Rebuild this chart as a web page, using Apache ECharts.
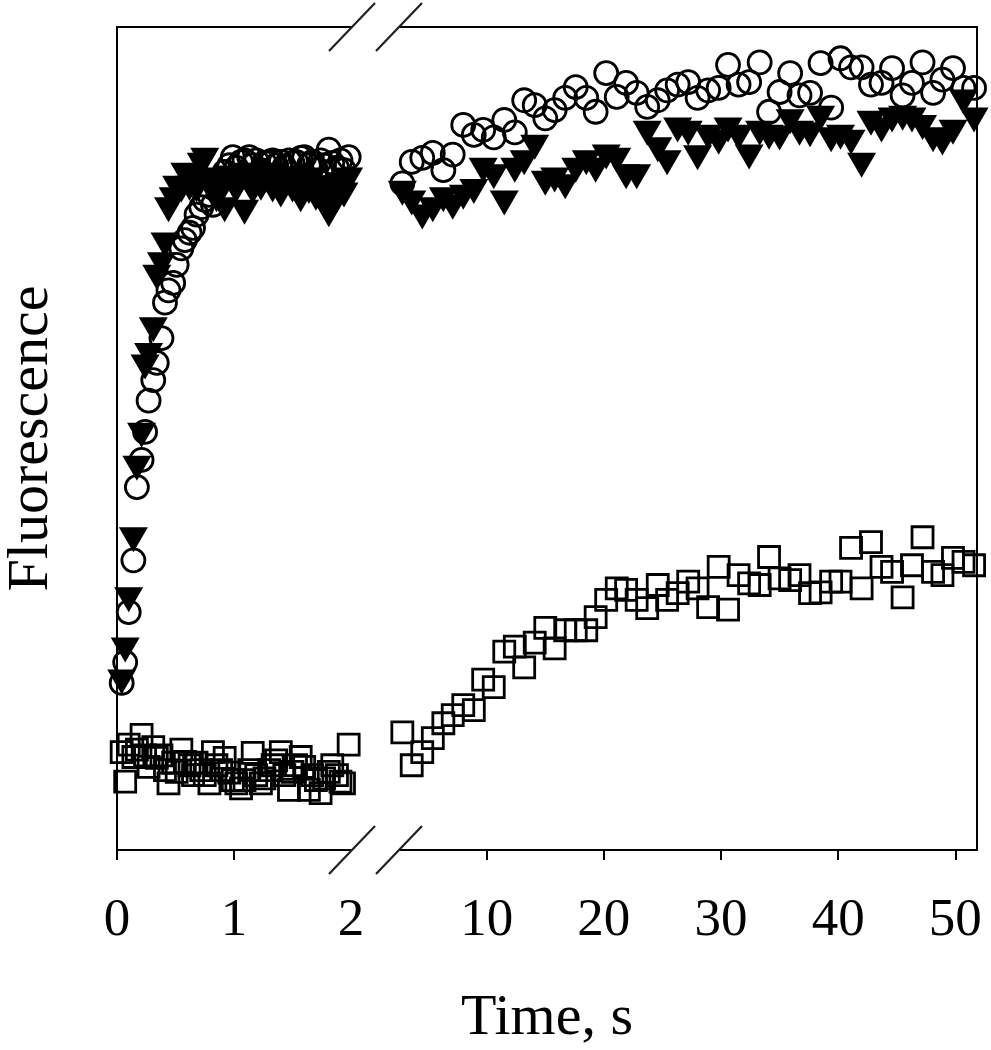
<!DOCTYPE html>
<html><head><meta charset="utf-8">
<script src="https://cdn.jsdelivr.net/npm/echarts@6/dist/echarts.min.js"></script>
<style>html,body{margin:0;padding:0;background:#fff}#c{width:991px;height:1050px}</style>
</head><body><div id="c"></div>
<script>
// ---- data (time in s, fluorescence in arbitrary units 0-100) ----
const tLeft = [0.04,0.07,0.10,0.14,0.17,0.21,0.24,0.27,0.31,0.34,0.38,0.41,0.44,0.48,0.51,0.55,0.58,0.62,0.65,0.68,0.72,0.75,0.79,0.82,0.85,0.89,0.92,0.96,0.99,1.02,1.06,1.09,1.13,1.16,1.19,1.23,1.26,1.30,1.33,1.36,1.40,1.43,1.47,1.50,1.53,1.57,1.60,1.64,1.67,1.70,1.74,1.77,1.81,1.84,1.88,1.91,1.94,1.98];
const circlesLeft = [20.3,22.8,28.9,35.2,44.1,47.4,50.8,54.6,57.1,59.2,62.2,66.5,68.0,68.9,71.1,73.1,74.1,75.0,75.6,77.2,78.1,79.0,79.6,78.4,80.8,81.6,82.4,83.2,84.2,82.9,83.6,83.8,84.2,83.2,83.8,82.6,83.5,83.6,83.8,83.2,83.6,83.0,83.8,83.5,83.6,84.1,84.2,83.2,83.6,82.6,83.8,83.2,85.1,83.5,82.9,83.8,82.6,84.2];
const trianglesLeft = [20.4,24.3,30.4,37.7,46.4,50.4,58.7,60.1,63.2,69.6,71.1,73.5,77.8,79.0,80.4,80.2,82.0,80.4,81.4,80.2,83.2,83.8,80.8,81.4,79.0,80.8,77.8,81.6,80.8,80.2,82.0,77.5,80.8,80.0,81.6,80.4,81.2,82.0,80.2,81.4,79.6,80.8,81.6,80.2,81.2,79.0,80.8,80.0,81.4,79.2,80.4,78.4,77.2,80.2,79.0,80.8,79.6,81.4];
const squaresLeft = [11.9,8.3,12.8,11.3,12.2,14.0,11.5,10.1,12.5,11.2,11.5,9.7,8.1,10.6,9.5,12.2,10.7,10.3,9.1,10.6,9.7,9.1,8.1,11.9,10.3,9.7,11.2,9.4,8.5,8.1,7.5,8.5,9.7,11.8,9.1,8.1,8.7,9.7,10.3,10.9,11.9,9.1,7.3,9.5,10.3,11.3,10.1,7.3,9.1,8.5,6.9,8.7,9.5,10.3,9.1,8.3,8.1,12.8];

const tRight = [2.8,3.6,4.5,5.4,6.3,7.1,8.0,8.9,9.7,10.6,11.5,12.4,13.2,14.1,15.0,15.8,16.7,17.6,18.5,19.3,20.2,21.1,21.9,22.8,23.7,24.6,25.4,26.3,27.2,28.0,28.9,29.8,30.6,31.5,32.4,33.3,34.1,35.0,35.9,36.7,37.6,38.5,39.4,40.2,41.1,42.0,42.8,43.7,44.6,45.5,46.3,47.2,48.1,48.9,49.8,50.7,51.6];
const circlesRight = [81.0,83.6,84.1,84.7,82.6,84.5,88.1,86.9,87.5,86.6,88.7,87.2,91.1,90.5,88.9,89.9,91.4,92.7,91.4,89.7,94.4,91.5,93.2,92.0,90.3,91.1,92.3,93.0,93.3,91.4,92.3,92.6,95.4,93.0,93.3,95.7,89.7,92.1,94.4,91.7,92.0,95.6,90.2,96.2,95.1,95.1,93.0,93.2,95.0,91.7,93.2,95.7,92.0,93.6,95.0,92.6,92.6];
const trianglesRight = [79.8,78.6,76.9,77.8,79.0,78.1,79.3,80.0,82.6,81.8,78.6,82.6,83.5,85.4,81.0,81.4,80.6,82.6,83.5,82.6,84.2,83.8,81.8,81.8,87.1,85.1,83.5,87.5,87.1,84.1,86.6,86.0,87.5,86.6,84.2,87.1,86.6,86.5,88.5,87.1,86.9,88.9,86.3,86.6,86.0,83.2,88.3,87.5,88.7,88.9,88.7,87.8,86.3,85.9,87.2,90.9,88.7];
const squaresRight = [14.3,10.3,11.9,13.6,15.4,16.4,17.6,17.0,20.7,19.8,24.1,24.7,22.2,25.2,27.0,24.5,26.7,26.7,26.7,28.3,30.4,31.8,31.6,30.4,29.4,32.2,30.4,31.2,32.6,31.8,29.5,34.4,29.2,33.4,32.4,32.2,35.6,33.0,32.8,33.4,31.2,31.3,32.6,32.6,36.7,31.8,37.4,34.4,33.8,30.7,34.6,38.0,33.8,33.4,35.5,35.0,34.6];

const leftTicks = [0, 1];
const leftLabels = [0, 1, 2];
const rightTicks = [10, 20, 30, 40, 50];
const xTitle = 'Time, s';
const yTitle = 'Fluorescence';

// ---- layout / style ----
const FONT = '"Liberation Serif","DejaVu Serif",serif';
const G1 = {left: 117, width: 234};
const G2 = {left: 400, width: 577};
const TOP = 27, HEIGHT = 823;
const LINE = {show: true, lineStyle: {color: '#000', width: 2}};
const TICK_FS = 53, TITLE_FS = 58;

const zip = (t, v) => t.map((x, i) => [x, v[i]]);

function frameX(gridIndex, pos, min, max) {
  return {type: 'value', gridIndex, position: pos, min, max,
    axisLine: Object.assign({onZero: false}, LINE),
    axisTick: {show: false}, axisLabel: {show: false}, splitLine: {show: false}};
}

const chart = echarts.init(document.getElementById('c'));
const option = {
  animation: false,
  backgroundColor: '#fff',
  grid: [
    {left: G1.left, width: G1.width, top: TOP, height: HEIGHT},
    {left: G2.left, width: G2.width, top: TOP, height: HEIGHT}
  ],
  xAxis: [
    {type: 'value', gridIndex: 0, position: 'bottom', min: 0, max: 2,
      axisLine: Object.assign({onZero: false}, LINE),
      axisTick: {show: true, inside: false, length: 10, customValues: leftTicks, lineStyle: {color: '#000', width: 2}},
      axisLabel: {customValues: leftLabels, margin: 45, fontSize: TICK_FS, fontFamily: FONT, color: '#000'},
      splitLine: {show: false}},
    frameX(0, 'top', 0, 2),
    {type: 'value', gridIndex: 1, position: 'bottom', min: 2.6, max: 51.85,
      axisLine: Object.assign({onZero: false}, LINE),
      axisTick: {show: true, inside: false, length: 10, customValues: rightTicks, lineStyle: {color: '#000', width: 2}},
      axisLabel: {customValues: rightTicks, margin: 45, fontSize: TICK_FS, fontFamily: FONT, color: '#000'},
      splitLine: {show: false}},
    frameX(1, 'top', 2.6, 51.85)
  ],
  yAxis: [
    {type: 'value', gridIndex: 0, position: 'left', min: 0, max: 100,
      axisLine: Object.assign({onZero: false}, LINE), axisTick: {show: false}, axisLabel: {show: false}, splitLine: {show: false},
      name: yTitle, nameLocation: 'middle', nameGap: 56, nameRotate: 90,
      nameTextStyle: {fontSize: TITLE_FS, fontFamily: FONT, color: '#000'}},
    {type: 'value', gridIndex: 1, position: 'right', min: 0, max: 100,
      axisLine: Object.assign({onZero: false}, LINE), axisTick: {show: false}, axisLabel: {show: false}, splitLine: {show: false}}
  ],
  series: [],
  graphic: []
};

const styles = {
  square: {symbol: 'rect', symbolSize: 21, symbolRotate: 0,
    itemStyle: {color: 'rgba(255,255,255,0)', borderColor: '#000', borderWidth: 2.8, opacity: 1}},
  circle: {symbol: 'circle', symbolSize: 23, symbolRotate: 0,
    itemStyle: {color: 'rgba(255,255,255,0)', borderColor: '#000', borderWidth: 2.8, opacity: 1}},
  triangle: {symbol: 'triangle', symbolSize: [29, 25], symbolRotate: 180,
    itemStyle: {color: '#000', borderColor: '#000', borderWidth: 0, opacity: 1}}
};
function addSeries(name, kind, xi, yi, data) {
  option.series.push(Object.assign({type: 'scatter', name, xAxisIndex: xi, yAxisIndex: yi, data,
    emphasis: {disabled: true}, silent: true, z: kind === 'triangle' ? 4 : 3}, styles[kind]));
}
addSeries('squares', 'square', 0, 0, zip(tLeft, squaresLeft));
addSeries('squares', 'square', 2, 1, zip(tRight, squaresRight));
addSeries('circles', 'circle', 0, 0, zip(tLeft, circlesLeft));
addSeries('circles', 'circle', 2, 1, zip(tRight, circlesRight));
addSeries('triangles', 'triangle', 0, 0, zip(tLeft, trianglesLeft));
addSeries('triangles', 'triangle', 2, 1, zip(tRight, trianglesRight));

// axis break marks and x title
const breakX = [G1.left + G1.width + 1, G2.left - 1];
const breakY = [TOP, TOP + HEIGHT];
breakY.forEach(cy => breakX.forEach(cx => {
  option.graphic.push({type: 'line', silent: true, z: 10,
    shape: {x1: cx - 23, y1: cy + 24, x2: cx + 23, y2: cy - 24},
    style: {stroke: '#222', lineWidth: 2.2}});
}));
option.graphic.push({type: 'text', x: G1.left + (G2.left + G2.width - G1.left) / 2, y: 990, silent: true,
  style: {text: xTitle, fontSize: TITLE_FS, fontFamily: FONT, fill: '#000', align: 'center', verticalAlign: 'top'}});

chart.setOption(option);
</script>
</body></html>
